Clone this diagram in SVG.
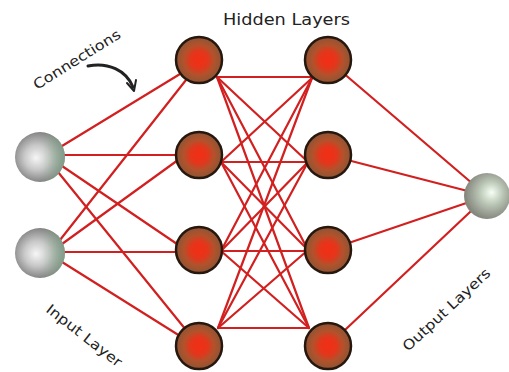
<svg xmlns="http://www.w3.org/2000/svg" width="509" height="372" viewBox="0 0 509 372">
<defs>
<radialGradient id="gHid" cx="50%" cy="50%" r="50%">
<stop offset="0%" stop-color="#f22e16"/>
<stop offset="38%" stop-color="#e3361b"/>
<stop offset="66%" stop-color="#b2522c"/>
<stop offset="100%" stop-color="#8e5434"/>
</radialGradient>
<radialGradient id="gIn" cx="45%" cy="50%" r="55%" fx="42%" fy="52%">
<stop offset="0%" stop-color="#f6f6f6"/>
<stop offset="45%" stop-color="#c8c8c8"/>
<stop offset="100%" stop-color="#777"/>
</radialGradient>
<linearGradient id="gTint" x1="0" y1="0" x2="1" y2="0">
<stop offset="55%" stop-color="#9c9" stop-opacity="0"/>
<stop offset="100%" stop-color="#8b9" stop-opacity="0.55"/>
</linearGradient>
<radialGradient id="gOut" cx="58%" cy="45%" r="55%" fx="60%" fy="42%">
<stop offset="0%" stop-color="#f6fff4"/>
<stop offset="45%" stop-color="#bcc8b8"/>
<stop offset="100%" stop-color="#86887e"/>
</radialGradient>
</defs>
<style>
.c line{stroke:#d21f1f;stroke-width:2.2;stroke-linecap:round}
.hid{fill:url(#gHid);stroke:#26180e;stroke-width:2.5}
.inp{fill:url(#gIn)}
.tint{fill:url(#gTint)}
.out{fill:url(#gOut)}
.lbl{font-family:"DejaVu Sans","Liberation Sans",sans-serif;fill:#222}
</style>
<rect width="509" height="372" fill="#fff"/>

<g id="connectors" class="c">
<line x1="62" y1="146" x2="180" y2="74"/>
<line x1="64" y1="155" x2="178" y2="155"/>
<line x1="62" y1="166" x2="180" y2="246"/>
<line x1="58" y1="172" x2="186" y2="330"/>
<line x1="60" y1="240" x2="186" y2="80"/>
<line x1="62" y1="244" x2="178" y2="160"/>
<line x1="64" y1="252" x2="178" y2="252"/>
<line x1="62" y1="262" x2="180" y2="336"/>
<line x1="217" y1="77" x2="312" y2="77"/>
<line x1="217" y1="77" x2="308" y2="162"/>
<line x1="217" y1="77" x2="308" y2="250"/>
<line x1="217" y1="77" x2="309" y2="328"/>
<line x1="221" y1="162" x2="312" y2="78"/>
<line x1="221" y1="162" x2="306" y2="162"/>
<line x1="221" y1="162" x2="308" y2="250"/>
<line x1="221" y1="162" x2="309" y2="328"/>
<line x1="221" y1="251" x2="312" y2="78"/>
<line x1="221" y1="251" x2="308" y2="162"/>
<line x1="221" y1="251" x2="306" y2="251"/>
<line x1="221" y1="251" x2="309" y2="328"/>
<line x1="218" y1="328" x2="312" y2="78"/>
<line x1="218" y1="328" x2="308" y2="162"/>
<line x1="218" y1="328" x2="308" y2="250"/>
<line x1="218" y1="328" x2="309" y2="328"/>
<line x1="328" y1="60" x2="487" y2="196"/>
<line x1="328" y1="155" x2="487" y2="196"/>
<line x1="328" y1="250" x2="487" y2="196"/>
<line x1="328" y1="346" x2="487" y2="196"/>
</g>

<g id="in1"><circle class="inp" cx="40" cy="157" r="25"/><circle class="tint" cx="40" cy="157" r="25"/></g>
<g id="in2"><circle class="inp" cx="40" cy="253" r="25"/><circle class="tint" cx="40" cy="253" r="25"/></g>

<g id="h1a"><circle class="hid" cx="199" cy="60" r="23"/></g>
<g id="h1b"><circle class="hid" cx="199" cy="155" r="23"/></g>
<g id="h1c"><circle class="hid" cx="199" cy="250" r="23"/></g>
<g id="h1d"><circle class="hid" cx="199" cy="346" r="23"/></g>

<g id="h2a"><circle class="hid" cx="328" cy="60" r="23"/></g>
<g id="h2b"><circle class="hid" cx="328" cy="155" r="23"/></g>
<g id="h2c"><circle class="hid" cx="328" cy="250" r="23"/></g>
<g id="h2d"><circle class="hid" cx="328" cy="346" r="23"/></g>

<g id="out"><circle class="out" cx="487" cy="196" r="23"/></g>

<g id="labels">
<text class="lbl" x="223" y="25" font-size="16" textLength="127" lengthAdjust="spacingAndGlyphs">Hidden Layers</text>
<text class="lbl" x="0" y="0" font-size="14" textLength="100" lengthAdjust="spacingAndGlyphs" transform="translate(37,90) rotate(-32)">Connections</text>
<text class="lbl" x="0" y="0" font-size="14" textLength="92" lengthAdjust="spacingAndGlyphs" transform="translate(45,311) rotate(38)">Input Layer</text>
<text class="lbl" x="0" y="0" font-size="14" textLength="114" lengthAdjust="spacingAndGlyphs" transform="translate(408,352) rotate(-43)">Output Layers</text>
</g>

<g id="arrow" fill="none" stroke="#222" stroke-linecap="round" stroke-linejoin="round">
<path d="M 88 66 C 108 62 126 70 133 87" stroke-width="3"/>
<path d="M 127 83 L 134 91 L 136 80" stroke-width="2"/>
</g>
</svg>
